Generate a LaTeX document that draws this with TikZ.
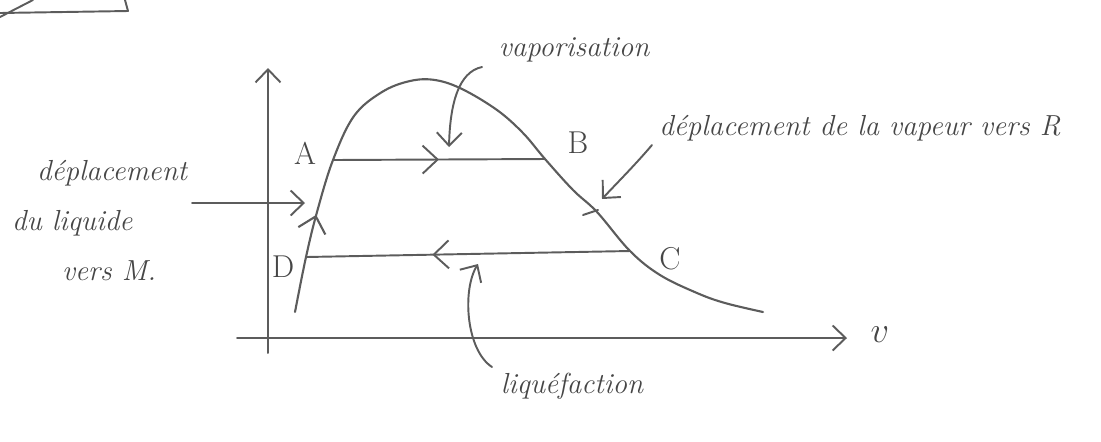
\documentclass[tikz,border=0pt]{standalone}
\usepackage{tikz}
\usetikzlibrary{arrows.meta,decorations.markings}
\definecolor{penInk}{RGB}{70,70,70}
\definecolor{penLine}{RGB}{92,92,92}
\tikzset{
  phand/.style={font=\itshape\fontsize{16.5}{28.5}\selectfont, text=penInk,
    inner sep=1pt},
  pletter/.style={font=\fontsize{18}{20}\selectfont, text=penInk,
    inner sep=1pt},
  pline/.style={draw=penLine, line width=1.1pt, line cap=round,
    line join=round},
  pflow/.style={pline, -{Straight Barb[length=2.6mm,width=5mm]}}
}

\begin{document}
\begin{tikzpicture}[x=0.02cm, y=-0.02cm,
  midtip/.style={postaction={decorate}, decoration={markings,
    mark=at position #1 with {\arrow{Straight Barb[length=3mm,width=5.6mm]}}}},
  curve/.style={pline, line width=1.2pt}
]
\path[use as bounding box] (0,0) rectangle (1101,441);

% scrap of the page frame, top left
\draw[pline] (0,13) -- (128,11) -- (125,0);
\draw[pline] (0,17) -- (33,0);

% axes
\coordinate (yBot) at (268,353);
\coordinate (yTop) at (268,68);
\coordinate (xLeft) at (237,338);
\coordinate (xRight) at (847,338);
\draw[pflow] (yBot) -- (yTop);
\draw[pflow] (xLeft) -- (xRight);
\node[phand, font=\itshape\fontsize{20}{20}\selectfont] (vlab) at (880,335) {$v$};

% saturation curve
\coordinate (ptD) at (306,257);
\coordinate (ptA) at (333,160);
\coordinate (ptB) at (545,159);
\coordinate (ptC) at (630,251);
\draw[curve, midtip=0.14] plot[smooth, tension=0.6] coordinates {
  (295,312) (ptD) (317,212) (ptA) (354,116) (382,92) (410,81)
  (435,80) (462,89) (497,110) (523,133) (ptB) (573,190)
  (597,212) (ptC) (660,275) (697,293) (725,303) (763,312)};
\draw[pline] (583,215) -- (598,210);

\node[pletter] (labA) at (305,153) {A};
\node[pletter] (labB) at (578,143) {B};
\node[pletter] (labC) at (670,259) {C};
\node[pletter] (labD) at (283,267) {D};

% the two plateaus
\draw[pline, midtip=0.5] (ptA) -- (ptB);
\draw[pline, midtip=0.61] (ptC) -- (ptD);

% labels
\node[phand] (vapo) at (574,50) {vaporisation};
\node[phand] (vapeur) at (860,128) {déplacement de la vapeur vers R};
\node[phand] (liquef) at (572,386) {liquéfaction};
\node[phand, align=left, anchor=north west] (liquide) at (10,158)
  {\hspace*{0.5cm}déplacement\\du liquide\\\hspace*{1cm}vers M.};

\coordinate (vapoFrom) at (482,67);
\coordinate (vapoTo) at (449,147);
\coordinate (vapeurFrom) at (652,145);
\coordinate (vapeurTo) at (602,199);
\coordinate (liquefFrom) at (492,367);
\coordinate (liquefTo) at (478,264);
\coordinate (liquideFrom) at (192,203);
\coordinate (liquideTo) at (305,203);

\draw[pflow] (vapoFrom) .. controls (458,72) and (450,105) .. (vapoTo);
\draw[pflow] (vapeurFrom) .. controls (635,165) and (616,184) .. (vapeurTo);
\draw[pflow] (liquefFrom) .. controls (466,350) and (462,290) .. (liquefTo);
\draw[pflow] (liquideFrom) -- (liquideTo);
\end{tikzpicture}
\end{document}
